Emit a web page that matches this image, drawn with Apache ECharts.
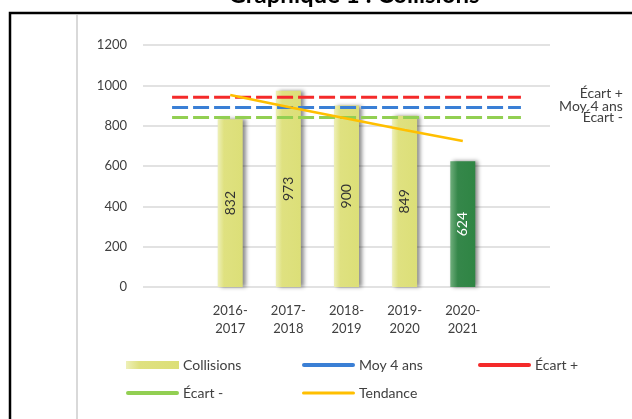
<!DOCTYPE html>
<html>
<head>
<meta charset="utf-8">
<script src="https://cdn.jsdelivr.net/npm/echarts@6/dist/echarts.min.js"></script>
<style>html,body{margin:0;padding:0;background:#fff;}#chart{width:632px;height:419px;}</style>
</head>
<body>
<div id="chart"></div>
<script>
const categories = ['', '2016-\n2017', '2017-\n2018', '2018-\n2019', '2019-\n2020', '2020-\n2021', ''];
const collisions = [null, 832, 973, 900, 849, 624, null];
const moy4ans = [890, 890, 890, 890, 890, 890, 890];
const ecartPlus = [941, 941, 941, 941, 941, 941, 941];
const ecartMoins = [840, 840, 840, 840, 840, 840, 840];
const tendance = [null, 952, 893, 836, 779, 724, null];
const yTicks = [0, 200, 400, 600, 800, 1000, 1200];

const FONT = 'Lato';
const TXT = '#404040';

const yellowGrad = new echarts.graphic.LinearGradient(0, 0, 1, 0, [
  {offset: 0, color: '#eef0b8'}, {offset: 0.25, color: '#dfe180'}, {offset: 1, color: '#dcdf78'}
]);
const greenGrad = new echarts.graphic.LinearGradient(0, 0, 1, 0, [
  {offset: 0, color: '#6fae7c'}, {offset: 0.3, color: '#35874a'}, {offset: 1, color: '#2f8544'}
]);

const barData = collisions.map((v, i) => {
  if (v === null) return '-';
  const last = i === 5;
  return {
    value: v,
    itemStyle: {color: last ? greenGrad : yellowGrad},
    label: {color: last ? '#ffffff' : '#333333'}
  };
});

function dashLine(name, data, color, labelOffset) {
  return {
    name, type: 'line', data, symbol: 'none', z: 3,
    lineStyle: {color, width: 3, type: [16, 5]},
    itemStyle: {color},
    endLabel: {
      show: true, formatter: name, fontFamily: FONT, fontSize: 14, color: TXT,
      distance: 102, align: 'right', offset: labelOffset
    }
  };
}

const thickLine = 'path://M2,0H51A2,2 0 0 1 51,4H2A2,2 0 0 1 2,0Z';
const thinLine = 'path://M1.5,0H51.5A1.5,1.5 0 0 1 51.5,3H1.5A1.5,1.5 0 0 1 1.5,0Z';
const legendCommon = {
  orient: 'vertical', itemGap: 14, itemWidth: 53, itemHeight: 14, padding: 0,
  symbolKeepAspect: true,
  textStyle: {fontFamily: FONT, fontSize: 14, color: TXT, padding: [0, 0, 0, -1]}
};

const chart = echarts.init(document.getElementById('chart'));
chart.setOption({
  animation: false,
  textStyle: {fontFamily: FONT},
  graphic: [
    {type: 'rect', shape: {x: 10, y: 13, width: 700, height: 500}, style: {fill: 'none', stroke: '#000', lineWidth: 2.5}, z: 0},
    {type: 'line', shape: {x1: 77, y1: 15, x2: 77, y2: 419}, style: {stroke: '#d9d9d9', lineWidth: 2}, z: 0},
    {type: 'text', x: 354, y: 7, style: {text: 'Graphique 1 : Collisions', fontFamily: FONT, fontWeight: 'bold', fontSize: 24, fill: '#000', textAlign: 'center', textVerticalAlign: 'bottom'}}
  ],
  grid: {left: 143, right: 82, top: 45, bottom: 132},
  xAxis: {
    type: 'category', data: categories,
    axisLine: {show: false}, axisTick: {show: false},
    axisLabel: {fontFamily: FONT, fontSize: 13, color: TXT, lineHeight: 18, margin: 15, interval: 0}
  },
  yAxis: {
    type: 'value', min: 0, max: 1200, interval: 200,
    axisLine: {show: false}, axisTick: {show: false},
    axisLabel: {fontFamily: FONT, fontSize: 13, color: TXT, margin: 16, formatter: v => yTicks.includes(v) ? String(v) : ''},
    splitLine: {lineStyle: {color: '#d9d9d9', width: 1.5}}
  },
  legend: [
    Object.assign({left: 126, top: 358,
     data: [{name: 'Collisions', icon: 'path://M0,0H53V8H0Z', itemStyle: {color: yellowGrad, shadowBlur: 0, shadowOffsetX: 0}},
            {name: 'Écart -', icon: thickLine}]}, legendCommon),
    Object.assign({left: 302, top: 358,
     data: [{name: 'Moy 4 ans', icon: thickLine},
            {name: 'Tendance', icon: thinLine}]}, legendCommon),
    Object.assign({left: 478, top: 358,
     data: [{name: 'Écart +', icon: thickLine}]}, legendCommon)
  ],
  series: [
    {
      name: 'Collisions', type: 'bar', data: barData, barWidth: 25, z: 2,
      itemStyle: {color: yellowGrad, shadowColor: 'rgba(0,0,0,0.45)', shadowBlur: 4, shadowOffsetX: 3, shadowOffsetY: 0},
      label: {show: true, position: 'inside', rotate: 90, fontFamily: FONT, fontSize: 14}
    },
    dashLine('Moy 4 ans', moy4ans, '#3a7fd5', [0, -1]),
    dashLine('Écart +', ecartPlus, '#f42a2a', [0, -4]),
    dashLine('Écart -', ecartMoins, '#92cf52', [0, 0]),
    {
      name: 'Tendance', type: 'line', data: tendance, symbol: 'none', z: 4,
      lineStyle: {color: '#ffbf00', width: 2.5}, itemStyle: {color: '#ffbf00'}
    }
  ]
});
</script>
</body>
</html>
